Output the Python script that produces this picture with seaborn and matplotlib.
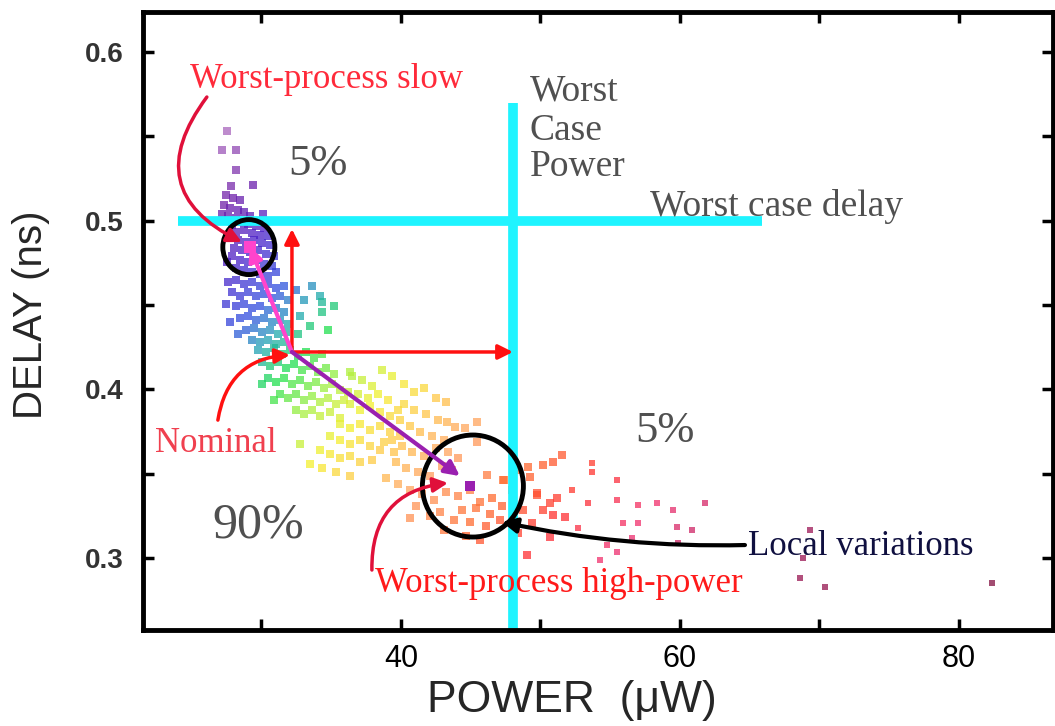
import numpy as np
import pandas as pd
import matplotlib
matplotlib.use("Agg")
import matplotlib.pyplot as plt
import seaborn as sns
from matplotlib.colors import LinearSegmentedColormap
from matplotlib.patches import Ellipse

# ---------------- data (power in uW, delay in ns) ----------------
tail_power = [27.53, 27.17, 28.17, 28.17, 27.81, 29.39, 27.46, 27.96, 28.46, 27.31, 27.74, 28.32,
              28.75, 27.17, 27.60, 28.17, 29.18, 30.11]
tail_delay = [0.5532, 0.5419, 0.5419, 0.5300, 0.5205, 0.5211, 0.5152, 0.5134, 0.5122, 0.5093, 0.5075,
              0.5063, 0.5051, 0.5040, 0.5028, 0.5016, 0.5028, 0.5040]

slow_power = [27.89, 28.46, 29.04, 29.61, 30.18, 28.18, 28.75, 29.32, 29.90, 30.47, 27.75, 28.32,
              28.89, 29.47, 30.04, 30.61, 28.03, 28.61, 29.18, 29.75, 30.33, 30.90, 27.89, 28.46,
              29.04, 29.61, 30.18, 30.76, 28.18, 28.75, 29.32, 29.90, 30.47, 27.53, 31.04]
slow_delay = [0.4974, 0.4992, 0.4980, 0.4968, 0.4957, 0.4933, 0.4945, 0.4927, 0.4915, 0.4909, 0.4897,
              0.4885, 0.4874, 0.4885, 0.4868, 0.4856, 0.4838, 0.4826, 0.4814, 0.4826, 0.4802, 0.4790,
              0.4790, 0.4767, 0.4755, 0.4767, 0.4743, 0.4731, 0.4719, 0.4708, 0.4696, 0.4684, 0.4672,
              0.4755, 0.4696]

blue_power = [27.60, 28.17, 28.75, 29.32, 29.89, 30.47, 31.04, 31.61, 27.89, 28.46, 29.03, 29.61,
              30.18, 30.75, 31.33, 31.90, 27.46, 28.17, 28.75, 29.32, 29.89, 30.47, 31.04, 31.61,
              28.46, 29.03, 29.61, 30.18, 30.75, 31.33, 31.90, 28.89, 29.46, 30.04, 30.61, 31.18,
              31.76, 29.32, 29.89, 30.47, 31.04, 31.61, 27.74, 28.32, 32.47, 33.05, 33.62, 34.19,
              32.76, 33.48, 34.34, 35.20, 34.77, 32.62, 34.34]
blue_delay = [0.4636, 0.4648, 0.4624, 0.4636, 0.4612, 0.4624, 0.4600, 0.4612, 0.4576, 0.4553, 0.4576,
              0.4553, 0.4565, 0.4541, 0.4553, 0.4529, 0.4505, 0.4493, 0.4505, 0.4482, 0.4493, 0.4470,
              0.4482, 0.4458, 0.4422, 0.4434, 0.4410, 0.4422, 0.4399, 0.4410, 0.4387, 0.4351, 0.4363,
              0.4339, 0.4351, 0.4327, 0.4339, 0.4292, 0.4280, 0.4292, 0.4268, 0.4280, 0.4399, 0.4327,
              0.4588, 0.4529, 0.4612, 0.4553, 0.4434, 0.4375, 0.4458, 0.4493, 0.4351, 0.4327, 0.4517]

green_power = [29.75, 30.32, 30.90, 31.47, 32.04, 32.62, 33.19, 33.76, 34.34, 30.04, 30.61, 31.18,
               31.76, 32.33, 32.90, 33.48, 34.05, 34.62, 35.20, 30.47, 31.04, 31.61, 32.19, 32.76,
               33.33, 33.91, 34.48, 35.05, 35.63, 31.33, 31.90, 32.47, 33.05, 33.62, 34.19, 34.77,
               35.34, 35.91, 32.47, 33.05, 33.62, 34.19, 34.91, 35.63, 30.90, 30.04, 36.34, 36.20]
green_delay = [0.4233, 0.4221, 0.4244, 0.4209, 0.4233, 0.4197, 0.4221, 0.4185, 0.4209, 0.4161, 0.4138,
               0.4161, 0.4126, 0.4150, 0.4114, 0.4138, 0.4102, 0.4126, 0.4090, 0.4067, 0.4043, 0.4067,
               0.4031, 0.4055, 0.4019, 0.4043, 0.4007, 0.4031, 0.3995, 0.3972, 0.3948, 0.3972, 0.3936,
               0.3960, 0.3924, 0.3948, 0.3912, 0.3936, 0.3877, 0.3853, 0.3877, 0.3841, 0.3865, 0.3829,
               0.3936, 0.4031, 0.4102, 0.3983]

yellow_power = [36.49, 37.20, 37.92, 36.92, 37.63, 38.35, 39.07, 36.34, 37.06, 37.78, 38.49, 39.21,
                39.79, 35.63, 36.34, 37.06, 37.78, 38.49, 39.21, 39.93, 34.91, 35.63, 36.34, 37.06,
                37.78, 38.49, 34.19, 34.91, 35.63, 36.34, 37.06, 37.92, 33.48, 34.34, 35.34, 36.34,
                32.76, 38.78, 39.50]
yellow_delay = [0.4078, 0.4055, 0.4019, 0.3972, 0.3948, 0.3972, 0.3936, 0.3912, 0.3877, 0.3900, 0.3865,
                0.3841, 0.3877, 0.3794, 0.3770, 0.3794, 0.3758, 0.3782, 0.3746, 0.3723, 0.3723, 0.3699,
                0.3675, 0.3699, 0.3663, 0.3640, 0.3640, 0.3616, 0.3592, 0.3604, 0.3568, 0.3580, 0.3557,
                0.3533, 0.3509, 0.3485, 0.3675, 0.3687, 0.3628]

orange_power = [38.64, 39.36, 40.22, 40.93, 41.65, 42.51, 43.23, 40.22, 40.93, 41.79, 42.65, 39.93,
                40.65, 41.36, 42.22, 43.08, 39.36, 40.07, 40.79, 41.65, 42.51, 43.37, 44.09, 39.64,
                40.36, 41.22, 42.08, 42.94, 43.66, 38.92, 39.79, 40.65, 41.51, 42.37, 43.23, 44.09,
                44.95, 45.66, 46.52, 47.38, 47.96, 44.37, 45.38, 46.38, 47.24, 42.80, 43.80, 44.95,
                46.09, 47.10, 41.08, 42.08, 40.65, 43.08, 44.66, 45.66, 48.24, 49.10, 50.18, 50.90,
                51.54, 49.25, 49.75, 50.68, 48.75, 50.18, 49.39, 50.68, 49.03, 48.39, 43.30, 43.87,
                44.59, 45.45, 45.45, 46.16, 47.31]
orange_delay = [0.4114, 0.4078, 0.4031, 0.3983, 0.4007, 0.3948, 0.3924, 0.3912, 0.3877, 0.3853, 0.3817,
                0.3817, 0.3782, 0.3746, 0.3723, 0.3699, 0.3699, 0.3663, 0.3628, 0.3604, 0.3651, 0.3628,
                0.3592, 0.3568, 0.3533, 0.3509, 0.3485, 0.3545, 0.3521, 0.3473, 0.3438, 0.3402, 0.3379,
                0.3343, 0.3390, 0.3367, 0.3402, 0.3331, 0.3355, 0.3462, 0.3402, 0.3284, 0.3296, 0.3260,
                0.3307, 0.3272, 0.3224, 0.3213, 0.3189, 0.3224, 0.3307, 0.3248, 0.3236, 0.3165, 0.3130,
                0.3106, 0.3521, 0.3539, 0.3551, 0.3568, 0.3610, 0.3479, 0.3385, 0.3325, 0.3284, 0.3284,
                0.3207, 0.3124, 0.3017, 0.3147, 0.3806, 0.3776, 0.3770, 0.3806, 0.3687, 0.3491, 0.3462]

red_power = [53.69, 53.69, 55.48, 52.26, 49.75, 51.18, 53.40, 55.48, 59.50, 61.79, 51.76, 55.91,
             56.99, 59.78, 52.69, 56.56, 54.77, 59.86, 69.32, 55.48, 54.26, 50.90]
red_delay = [0.3562, 0.3509, 0.3462, 0.3402, 0.3373, 0.3355, 0.3325, 0.3343, 0.3284, 0.3325, 0.3242,
             0.3207, 0.3207, 0.3183, 0.3177, 0.3118, 0.3076, 0.3088, 0.3165, 0.3035, 0.2987, 0.3254]

far_power = [56.99, 58.35, 60.86, 68.82, 68.60, 70.39, 82.36]
far_delay = [0.3313, 0.3325, 0.3165, 0.2999, 0.2880, 0.2827, 0.2851]

# key corners
NOMINAL = (32.19, 0.4221)
WORST_SLOW = (29.18, 0.4843)
WORST_HIGH_POWER = (44.95, 0.3426)
WORST_DELAY = 0.50
WORST_POWER = 48.03

x_ticks = [30, 40, 50, 60, 70, 80]
x_ticklabels = ["", "40", "", "60", "", "80"]
y_ticks = [0.30, 0.35, 0.40, 0.45, 0.50, 0.55, 0.60]
y_ticklabels = ["0.3", "", "0.4", "", "0.5", "", "0.6"]

# ---------------- frame ----------------
power = (tail_power + slow_power + blue_power + green_power + yellow_power + orange_power
         + red_power + far_power)
delay = (tail_delay + slow_delay + blue_delay + green_delay + yellow_delay + orange_delay
         + red_delay + far_delay)
df = pd.DataFrame({"power": power, "delay": delay})
# colour key: position along the power/delay trade-off diagonal
df["trend"] = 14.0 * df["power"] - 1687.0 * df["delay"]
dense = df[df["power"] < 52]
sparse = df[df["power"] >= 52]

stops = [(-560, "#b070c0"), (-480, "#7020a8"), (-410, "#4a20c8"), (-340, "#3050e0"),
         (-295, "#20a8b0"), (-250, "#20e050"), (-190, "#a8f040"), (-130, "#f4f030"),
         (-70, "#ffc848"), (0, "#ffa060"), (90, "#ff6a30"), (170, "#ff3030"),
         (260, "#f03070"), (400, "#a01858"), (700, "#801040")]
lo, hi = stops[0][0], stops[-1][0]
cmap = LinearSegmentedColormap.from_list(
    "rainbowcloud", [((v - lo) / (hi - lo), c) for v, c in stops])

sns.set_theme(style="ticks")
plt.rcParams["font.family"] = ["Liberation Sans", "DejaVu Sans"]

fig = plt.figure(figsize=(10.55, 7.26), dpi=100)
ax = fig.add_axes([0.1355, 0.1322, 0.8626, 0.8512])

sns.scatterplot(data=dense, x="power", y="delay", hue="trend", palette=cmap, hue_norm=(lo, hi),
                marker="s", s=30, linewidth=0, alpha=0.75, legend=False, ax=ax, zorder=1)
sns.scatterplot(data=sparse, x="power", y="delay", hue="trend", palette=cmap, hue_norm=(lo, hi),
                marker="s", s=18, linewidth=0, alpha=0.75, legend=False, ax=ax, zorder=1)

ax.set_xlim(21.51, 86.74)
ax.set_ylim(0.2572, 0.6237)

# worst-case boundaries
cyan = "#1ff4ff"
ax.plot([24.02, 65.88], [WORST_DELAY, WORST_DELAY], color=cyan, lw=7, solid_capstyle="butt", zorder=2)
ax.plot([WORST_POWER, WORST_POWER], [0.2572, 0.5697], color=cyan, lw=7, solid_capstyle="butt", zorder=2)

# circles
ax.add_patch(Ellipse((29.10, 0.4843), 3.73, 0.0326, fill=False, ec="black", lw=3.5, zorder=4))
ax.add_patch(Ellipse((45.16, 0.3426), 7.24, 0.0605, fill=False, ec="black", lw=3.5, zorder=4))

red = "#ff1010"
crimson = "#e0103a"
# nominal cross arrows
ax.annotate("", xy=(NOMINAL[0], 0.4950), xytext=NOMINAL,
            arrowprops=dict(arrowstyle="-|>", color=red, lw=2.5, mutation_scale=22,
                            shrinkA=0, shrinkB=0), zorder=5)
ax.annotate("", xy=(WORST_POWER, NOMINAL[1]), xytext=NOMINAL,
            arrowprops=dict(arrowstyle="-|>", color=red, lw=2.5, mutation_scale=22,
                            shrinkA=0, shrinkB=0), zorder=5)
# process corner lines
ax.annotate("", xy=WORST_SLOW, xytext=NOMINAL,
            arrowprops=dict(arrowstyle="-|>", color="#ff44cc", lw=3, mutation_scale=20,
                            shrinkA=0, shrinkB=0), zorder=5)
ax.annotate("", xy=(44.23, 0.3485), xytext=NOMINAL,
            arrowprops=dict(arrowstyle="-|>", color="#9a20b0", lw=3, mutation_scale=22,
                            shrinkA=0, shrinkB=0), zorder=5)
ax.scatter([WORST_SLOW[0]], [WORST_SLOW[1]], marker="s", s=70, color="#ff44cc", zorder=5, linewidth=0)
ax.scatter([WORST_HIGH_POWER[0]], [WORST_HIGH_POWER[1]], marker="s", s=60, color="#9a20b0",
           zorder=5, linewidth=0)

serif = ["Liberation Serif", "DejaVu Serif"]
gray = "#505050"

# labels with curved arrows
ax.text(24.87, 0.5786, "Worst-process slow", color="#ff2a3a", fontsize=25, family=serif,
        ha="left", va="baseline", zorder=6)
ax.annotate("", xy=(28.60, 0.4873), xytext=(26.09, 0.5733),
            arrowprops=dict(arrowstyle="-|>", color=crimson, lw=2.5, mutation_scale=22,
                            connectionstyle="arc3,rad=0.6", shrinkA=0, shrinkB=0), zorder=5)

ax.text(22.37, 0.3628, "Nominal", color="#f0404f", fontsize=25, family=serif,
        ha="left", va="baseline", zorder=6)
ax.annotate("", xy=(32.04, 0.4203), xytext=(26.88, 0.3817),
            arrowprops=dict(arrowstyle="-|>", color=red, lw=2.5, mutation_scale=22,
                            connectionstyle="arc3,rad=-0.4", shrinkA=0, shrinkB=0), zorder=5)

ax.text(38.14, 0.2797, "Worst-process high-power", color="#ff1a1a", fontsize=25, family=serif,
        ha="left", va="baseline", zorder=6)
ax.annotate("", xy=(43.37, 0.3444), xytext=(37.92, 0.2928),
            arrowprops=dict(arrowstyle="-|>", color=crimson, lw=2.5, mutation_scale=22,
                            connectionstyle="arc3,rad=-0.45", shrinkA=0, shrinkB=0), zorder=5)

ax.text(64.87, 0.3017, "Local variations", color="#101040", fontsize=25, family=serif,
        ha="left", va="baseline", zorder=6)
ax.annotate("", xy=(47.24, 0.3213), xytext=(64.66, 0.3076),
            arrowprops=dict(arrowstyle="-|>", color="black", lw=3, mutation_scale=22,
                            connectionstyle="arc3,rad=-0.06", shrinkA=0, shrinkB=0), zorder=5)

# worst-case labels and percentages
ax.text(49.25, 0.5715, "Worst", color=gray, fontsize=27, family=serif, ha="left", va="baseline")
ax.text(49.25, 0.5478, "Case", color=gray, fontsize=27, family=serif, ha="left", va="baseline")
ax.text(49.25, 0.5264, "Power", color=gray, fontsize=27, family=serif, ha="left", va="baseline")
ax.text(57.85, 0.5027, "Worst case delay", color=gray, fontsize=27, family=serif,
        ha="left", va="baseline")
ax.text(31.90, 0.5270, "5%", color=gray, fontsize=32, family=serif, ha="left", va="baseline")
ax.text(56.77, 0.3687, "5%", color=gray, fontsize=32, family=serif, ha="left", va="baseline")
ax.text(26.52, 0.3118, "90%", color=gray, fontsize=36, family=serif, ha="left", va="baseline")

# axes styling
ax.set_xticks(x_ticks)
ax.set_xticklabels(x_ticklabels)
ax.set_yticks(y_ticks)
ax.set_yticklabels(y_ticklabels)
ax.tick_params(direction="in", length=8, width=2.5, top=True, right=True, color="black")
ax.tick_params(axis="x", labelsize=22, pad=10, labelcolor="black")
ax.tick_params(axis="y", labelsize=20, pad=14, labelcolor="#333333")
for lab in ax.get_yticklabels():
    lab.set_fontweight("bold")
for side in ["left", "bottom", "top", "right"]:
    ax.spines[side].set_linewidth(3.5)
    ax.spines[side].set_color("black")

ax.set_xlabel("POWER  (\u03bcW)", fontsize=32)
ax.set_ylabel("DELAY (ns)", fontsize=29)
ax.xaxis.set_label_coords(0.471, -0.081)
ax.yaxis.set_label_coords(-0.102, 0.51)

fig.savefig("out.png", dpi=100)
